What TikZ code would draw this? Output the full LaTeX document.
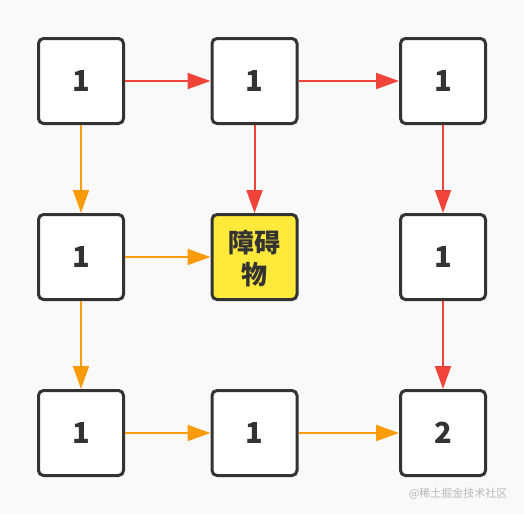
\documentclass[tikz,border=0pt]{standalone}
\usepackage{fontspec}
\newfontfamily\cjk{Noto Sans CJK SC}
\usepackage{tikz}
\usetikzlibrary{arrows.meta, positioning}
\usepackage{xcolor}
\definecolor{sfondo}{HTML}{F9F9F9}
\definecolor{bordo}{HTML}{333333}
\definecolor{rosso}{HTML}{F0433A}
\definecolor{arancio}{HTML}{FA9B0A}
\definecolor{giallo}{HTML}{FFE93A}
\definecolor{filigrana}{HTML}{B8B8B8}

\tikzset{
    cella/.style = {draw = bordo, line width = 3pt, rounded corners = 5pt, fill = white,
        minimum size = 85pt, inner sep = 0pt, font = \cjk\bfseries\fontsize{29}{32}\selectfont,
        text = bordo, align = center, text depth = -2.5pt},
    ostacolo/.style = {cella, fill = giallo, font = \cjk\bfseries\fontsize{26}{32}\selectfont,
        text depth = 0pt},
    passo/.style = {line width = 2pt, -{Triangle[length = 23pt, width = 16pt]}},
    rossa/.style = {passo, draw = rosso, fill = rosso},
    gialla/.style = {passo, draw = arancio, fill = arancio}
}

\begin{document}
\begin{tikzpicture}[x = 1pt, y = -1pt]
    % Parametri (aiuto)
    \pgfmathsetmacro{\xa}{81}
    \pgfmathsetmacro{\xb}{254.5}
    \pgfmathsetmacro{\xc}{443}
    \pgfmathsetmacro{\ya}{81}
    \pgfmathsetmacro{\yb}{257}
    \pgfmathsetmacro{\yc}{433}
    % Sfondo
    \fill[sfondo] (0,0) rectangle (524,514);
    \useasboundingbox (0,0) rectangle (524,514);
    % Celle
    \node[cella] (c11) at (\xa,\ya) {1};
    \node[cella] (c12) at (\xb,\ya) {1};
    \node[cella] (c13) at (\xc,\ya) {1};
    \node[cella] (c21) at (\xa,\yb) {1};
    \node[ostacolo] (c22) at (\xb,\yb) {障碍\\物};
    \node[cella] (c23) at (\xc,\yb) {1};
    \node[cella] (c31) at (\xa,\yc) {1};
    \node[cella] (c32) at (\xb,\yc) {1};
    \node[cella] (c33) at (\xc,\yc) {2};
    % Frecce
    \draw[rossa] (c11) -- (c12);
    \draw[rossa] (c12) -- (c13);
    \draw[rossa] (c12) -- (c22);
    \draw[rossa] (c13) -- (c23);
    \draw[rossa] (c23) -- (c33);
    \draw[gialla] (c11) -- (c21);
    \draw[gialla] (c21) -- (c22);
    \draw[gialla] (c21) -- (c31);
    \draw[gialla] (c31) -- (c32);
    \draw[gialla] (c32) -- (c33);
    % Filigrana
    \node[text = filigrana, font = \cjk\fontsize{11}{13}\selectfont, anchor = east] (marchio) at (511,494) {@稀土掘金技术社区};
\end{tikzpicture}
\end{document}
